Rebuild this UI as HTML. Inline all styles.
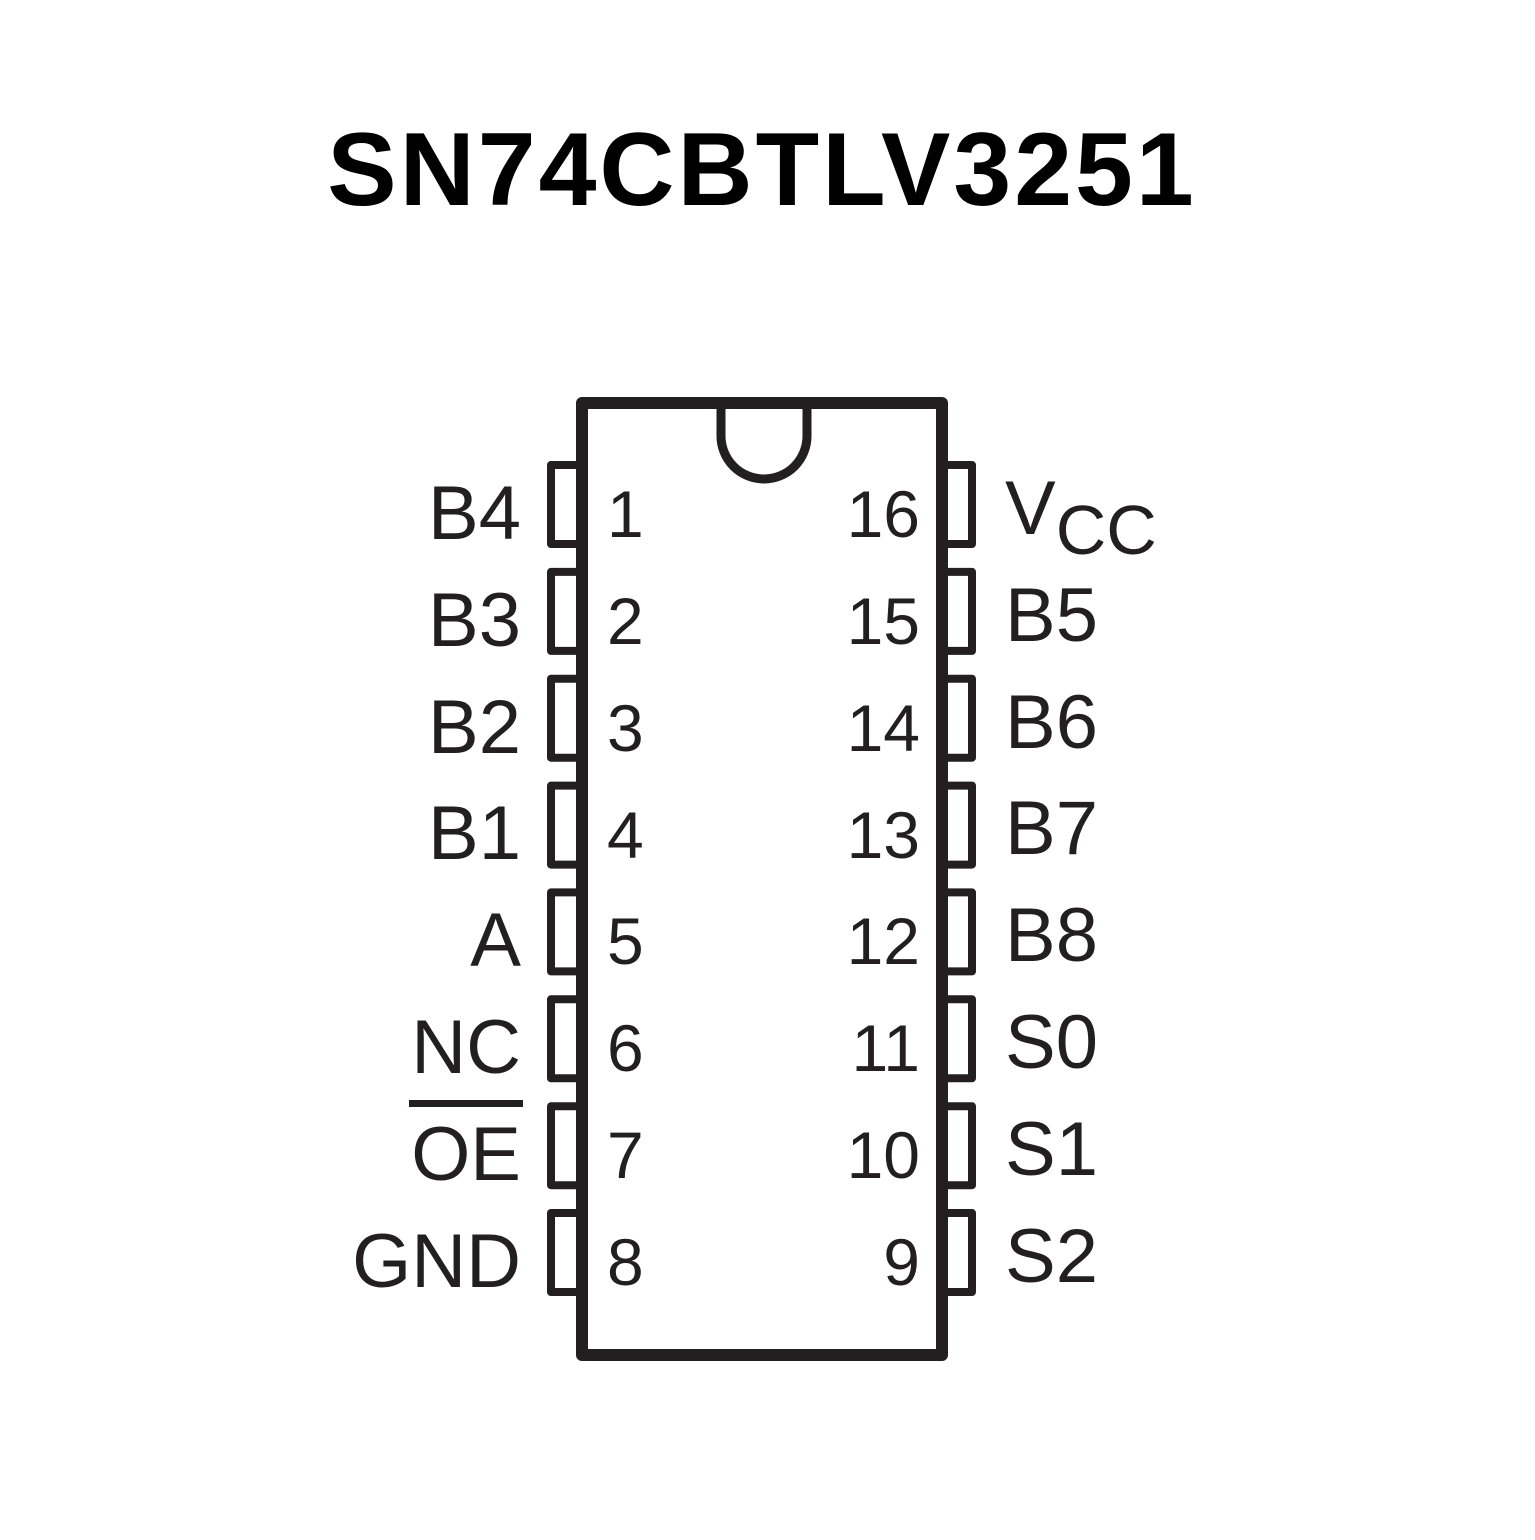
<!DOCTYPE html>
<html><head><style>body{margin:0;background:#fff}</style></head><body>
<svg width="1535" height="1535" xmlns="http://www.w3.org/2000/svg" font-family="Liberation Sans, sans-serif" fill="#231f20">
<text x="762" y="205" text-anchor="middle" font-size="104" font-weight="bold" fill="#000" letter-spacing="3">SN74CBTLV3251</text>
<g fill="none" stroke="#231f20" stroke-linejoin="round">
<rect x="582" y="403" width="360" height="952" stroke-width="12"/>
<path d="M721 409 V436 A43 43 0 0 0 807 436 V409" stroke-width="9"/>
<g stroke-width="8">
<rect x="551" y="465" width="29" height="79"/><rect x="551" y="571.9" width="29" height="79"/><rect x="551" y="678.7" width="29" height="79"/><rect x="551" y="785.6" width="29" height="79"/><rect x="551" y="892.4" width="29" height="79"/><rect x="551" y="999.3" width="29" height="79"/><rect x="551" y="1106.2" width="29" height="79"/><rect x="551" y="1213" width="29" height="79"/>
<rect x="944" y="465" width="28" height="79"/><rect x="944" y="571.9" width="28" height="79"/><rect x="944" y="678.7" width="28" height="79"/><rect x="944" y="785.6" width="28" height="79"/><rect x="944" y="892.4" width="28" height="79"/><rect x="944" y="999.3" width="28" height="79"/><rect x="944" y="1106.2" width="28" height="79"/><rect x="944" y="1213" width="28" height="79"/>
</g></g>
<rect x="409" y="1100" width="114" height="7"/>
<g font-size="76" text-anchor="end">
<text x="521" y="539">B4</text><text x="521" y="646">B3</text><text x="521" y="753">B2</text><text x="521" y="859">B1</text><text x="521" y="966">A</text><text x="521" y="1073">NC</text><text x="521" y="1180">OE</text><text x="521" y="1287">GND</text>
</g>
<g font-size="66">
<text x="607" y="537">1</text><text x="607" y="644">2</text><text x="607" y="751">3</text><text x="607" y="858">4</text><text x="607" y="964">5</text><text x="607" y="1071">6</text><text x="607" y="1178">7</text><text x="607" y="1285">8</text>
</g>
<g font-size="66" text-anchor="end">
<text x="920" y="537">16</text><text x="920" y="644">15</text><text x="920" y="751">14</text><text x="920" y="858">13</text><text x="920" y="964">12</text><text x="920" y="1071">11</text><text x="920" y="1178">10</text><text x="920" y="1285">9</text>
</g>
<g font-size="76">
<text x="1005" y="534">V<tspan font-size="70" dy="20">CC</tspan></text>
<text x="1005" y="641">B5</text><text x="1005" y="748">B6</text><text x="1005" y="854">B7</text><text x="1005" y="961">B8</text><text x="1005" y="1068">S0</text><text x="1005" y="1175">S1</text><text x="1005" y="1282">S2</text>
</g>
</svg>
</body></html>
